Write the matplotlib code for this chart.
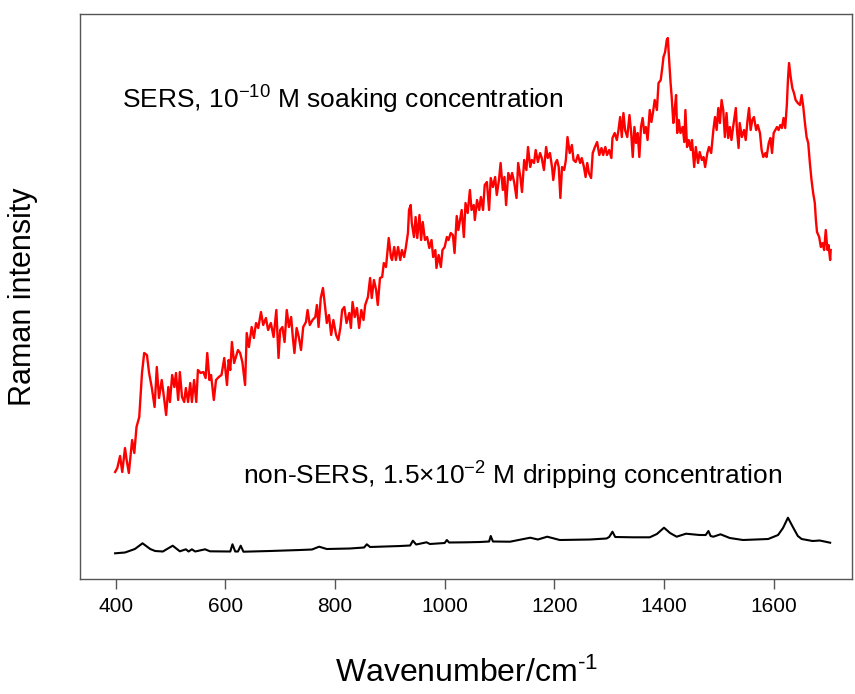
import matplotlib
matplotlib.use("Agg")
import matplotlib.pyplot as plt
import numpy as np

# SERS spectrum, 1e-10 M soaking (wavenumber / cm-1, intensity a.u.)
sers_wn = [399, 403, 408, 412, 417, 420, 424, 430, 434, 438, 443, 448, 452, 457, 461, 466, 471, 475,
           479, 484, 488, 492, 496, 499, 503, 507, 510, 514, 517, 521, 525, 528, 532, 536, 539, 543,
           547, 550, 555, 560, 564, 567, 571, 574, 579, 583, 588, 593, 598, 603, 606,
           609, 612, 616, 623, 627, 631, 636, 639, 643, 648, 652, 656, 660, 665, 669, 674, 678, 683,
           688, 693, 697, 700, 704, 708, 712, 716, 720, 723, 726, 730, 734, 738, 742, 747, 750, 754,
           759, 764, 767, 770, 774, 778, 782, 785, 789, 793, 797, 802, 806, 810, 813, 817,
           821, 826, 829, 832, 836, 840, 844, 848, 852, 855, 860, 864, 867, 871, 875, 878, 882, 886,
           889, 893, 898, 902, 904, 908, 911, 915, 919, 922, 926, 929, 933, 935, 938, 940, 944, 947,
           950, 954, 957, 960, 964, 968, 972, 976, 979, 983, 985, 989, 993, 996, 1000, 1004, 1007,
           1011, 1015, 1018,
           1022, 1025, 1028, 1031, 1035, 1038, 1042, 1046, 1049, 1053, 1055, 1059, 1063, 1066, 1070,
           1073, 1077, 1081, 1084, 1088, 1092, 1095, 1099, 1102, 1106, 1109, 1112, 1116, 1120, 1123,
           1127, 1131, 1134, 1138, 1141, 1145, 1149, 1152, 1156, 1159, 1163, 1166, 1170, 1174, 1177,
           1181, 1185, 1188, 1192, 1196, 1198, 1202, 1205, 1208, 1211, 1214, 1218, 1221, 1224, 1228,
           1232, 1235,
           1239, 1243, 1247, 1250, 1254, 1257, 1260, 1263, 1267, 1270, 1274, 1278, 1282, 1286, 1289,
           1293, 1296, 1300, 1304, 1306, 1310, 1314, 1317, 1320, 1323, 1326, 1329, 1333, 1337, 1340,
           1343, 1346, 1349, 1352, 1355, 1358, 1361, 1364, 1367, 1370, 1374, 1377, 1380, 1383, 1387,
           1390, 1394, 1397, 1399, 1402, 1405, 1407, 1409, 1412, 1414, 1417, 1419, 1422, 1424, 1427,
           1430, 1434, 1437, 1439, 1442, 1445, 1449, 1451, 1455, 1458, 1462, 1465,
           1469, 1472, 1475, 1479, 1482, 1486, 1490, 1493, 1496, 1499, 1502, 1505, 1508, 1511, 1514,
           1517, 1520, 1523, 1526, 1531, 1533, 1536, 1538, 1542, 1546, 1549, 1552, 1555, 1558, 1561,
           1564, 1568, 1571, 1575, 1578, 1581, 1585, 1587, 1591, 1594, 1597, 1600, 1603, 1606, 1609,
           1612, 1615, 1618, 1621, 1624, 1626, 1628, 1631, 1634, 1637, 1640, 1644, 1648, 1651, 1654,
           1657, 1660, 1663, 1666, 1669, 1672, 1675, 1677, 1679, 1683, 1686, 1689, 1692, 1695, 1698,
           1700, 1703, 1704]
sers_int = [107, 111, 123, 107, 131, 119, 106, 139, 126, 152, 162, 206, 226, 224, 206, 191, 172, 212,
            181, 199, 182, 164, 192, 177, 204, 192, 206, 179, 207, 182, 177, 191, 177, 196, 177, 199,
            177, 209, 206, 207, 201, 226, 199, 204, 179, 199, 202, 204, 221, 194, 219,
            209, 237, 216, 229, 226, 217, 194, 246, 232, 252, 241, 256, 251, 267, 254, 261, 249, 256,
            242, 269, 221, 249, 252, 237, 269, 252, 262, 242, 226, 251, 242, 229, 252, 257, 269, 254,
            259, 262, 274, 252, 281, 291, 272, 256, 264, 244, 259, 244, 239, 252, 269, 272,
            256, 266, 251, 277, 262, 271, 251, 269, 259, 274, 282, 301, 281, 299, 289, 274, 301, 302,
            316, 312, 341, 322, 319, 332, 319, 332, 319, 329, 322, 331, 346, 369, 374, 356, 342, 362,
            341, 364, 339, 357, 339, 342, 331, 339, 322, 329, 311, 324, 312, 329, 332, 342, 339,
            346, 344, 326,
            363, 349, 359, 369, 342, 376, 366, 389, 369, 374, 359, 379, 369, 382, 369,
            394, 397, 369, 401, 392, 402, 384, 399, 416, 389, 402, 374, 406, 399, 406,
            396, 381, 416, 402, 387, 419, 409, 432, 412, 419, 416, 429, 417, 426, 421,
            409, 432, 421, 426, 411, 399, 416, 419, 412, 381, 412, 409, 419, 442, 426,
            434, 419,
            417, 424, 416, 421, 412, 402, 416, 406, 401, 426, 432, 437, 424, 431, 424,
            432, 424, 429, 421, 441, 446, 439, 449, 462, 442, 466, 449, 442, 464, 447,
            422, 452, 436, 446, 422, 452, 461, 446, 452, 439, 469, 457, 467, 479, 469,
            496, 499, 512, 522, 527, 539, 541, 522, 496, 482, 456, 466, 484, 446, 459,
            446, 452, 437, 469, 432, 439, 429, 439, 412, 432, 416, 427,
            419, 422, 412, 426, 432, 426, 449, 462, 449, 471, 456, 479, 469, 442, 466,
            441, 452, 439, 452, 471, 449, 431, 456, 442, 449, 439, 457, 471, 449, 459,
            462, 449, 454, 446, 429, 422, 426, 422, 436, 441, 426, 446, 449, 452, 449,
            454, 451, 461, 451, 474, 499, 516, 502, 491, 486, 479, 476, 474, 484, 472,
            456, 442, 436, 416, 399, 386, 376, 359, 347, 342, 332, 336, 329, 349, 329,
            334, 319, 329]

# normal Raman spectrum, 1.5e-2 M dripping
raman_wn = [399, 417, 435, 449, 463, 472, 486, 504, 517, 528, 533, 539, 545, 563, 572, 609, 613, 618,
            623, 628, 633, 681, 736, 758, 771, 785, 827, 853, 858, 864, 919, 937, 942, 948, 967, 973,
            1000, 1004, 1008, 1040, 1064, 1081, 1084, 1088, 1119, 1156, 1170, 1187, 1210, 1265, 1295,
            1300, 1306, 1311, 1343, 1374, 1387, 1400, 1411, 1423, 1440, 1465, 1476, 1481, 1485, 1490,
            1503, 1520, 1544, 1590, 1608, 1617, 1626, 1635, 1644, 1651, 1671, 1684, 1703]
raman_int = [25.7, 26.5, 30, 35.7, 30, 28, 27.5, 33.3, 27.7, 29.7, 27.5, 29.7, 27.5, 29.7, 27.7, 27.5,
             34.7, 27.5, 27.5, 33.3, 27.3, 28, 29, 29.5, 32.3, 30, 30.5, 31.5, 34.7, 32, 33, 33.5,
             38.3, 34.5, 36.7, 35, 36, 39, 36.5, 36.7, 37, 37.5, 43, 37.5, 37.3, 41.3, 39.5, 42.3,
             39, 39.5, 40.5, 42, 47.3, 42, 41.7, 41.7, 45, 51.3, 46, 42.3, 45.3, 44, 44, 48, 43, 42.3,
             44.7, 41, 39, 40, 44, 51, 61.3, 52, 43, 40, 38, 38.5, 36.3]

x_ticks = [400, 600, 800, 1000, 1200, 1400, 1600]

plt.rcParams["font.family"] = ["Liberation Sans", "DejaVu Sans"]
plt.rcParams["mathtext.fontset"] = "custom"
plt.rcParams["mathtext.rm"] = "Liberation Sans"
plt.rcParams["mathtext.it"] = "Liberation Sans:italic"
plt.rcParams["mathtext.bf"] = "Liberation Sans:bold"

fig = plt.figure(figsize=(8.55, 6.94), dpi=100)
ax = fig.add_axes([0.0936, 0.1657, 0.903, 0.8141])

ax.plot(sers_wn, sers_int, color="#ff0000", lw=1.7)
ax.plot(raman_wn, raman_int, color="black", lw=1.5)

ax.set_xlim(335, 1743)
ax.set_ylim(0, 565)
ax.set_xticks(x_ticks)
ax.set_yticks([])
ax.tick_params(axis="x", direction="out", length=7, width=1, color="#555555",
               labelsize=15, pad=6)
for sp in ax.spines.values():
    sp.set_color("#555555")
    sp.set_linewidth(1)

ax.text(400 + (122 - 115.6) * 1.8232, 579 - 100, "SERS, 10$^{-10}$ M soaking concentration",
        fontsize=19, va="center", ha="left")
ax.text(400 + (243 - 115.6) * 1.8232, 579 - 476, "non-SERS, 1.5\u00d710$^{-2}$ M dripping concentration",
        fontsize=19, va="center", ha="left")

ax.set_ylabel("Raman intensity", fontsize=22, labelpad=30)
ax.set_xlabel("Wavenumber/cm$^{\u20101}$", fontsize=23, labelpad=30)

fig.savefig("out.png", dpi=100)
